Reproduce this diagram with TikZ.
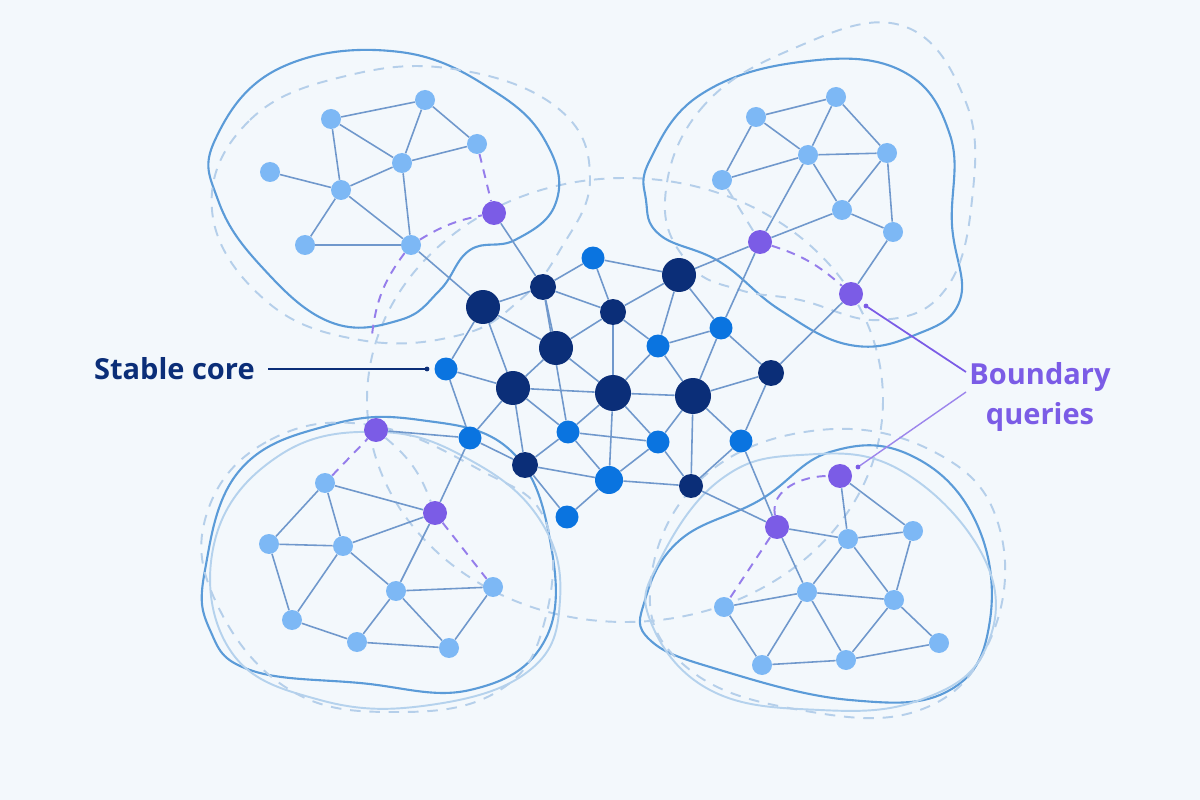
\documentclass[tikz,border=0pt]{standalone}
\usepackage{fontspec}
\setmainfont{Open Sans}
\usepackage{tikz}
\usetikzlibrary{positioning,backgrounds}
\definecolor{bgpaper}{HTML}{F3F8FC}
\definecolor{navy}{HTML}{0B2E78}
\definecolor{midblue}{HTML}{0A74E0}
\definecolor{lightblue}{HTML}{7DB8F5}
\definecolor{violet}{HTML}{7B5CE6}
\definecolor{edgeblue}{HTML}{7098CC}
\definecolor{blobblue}{HTML}{5B9BD8}
\definecolor{dashblue}{HTML}{B5CFEA}
\tikzset{
  big/.style={circle,fill=navy,minimum size=0.68cm,inner sep=0pt},
  dark/.style={circle,fill=navy,minimum size=0.52cm,inner sep=0pt},
  mid/.style={circle,fill=midblue,minimum size=0.46cm,inner sep=0pt},
  leaf/.style={circle,fill=lightblue,minimum size=0.4cm,inner sep=0pt},
  query/.style={circle,fill=violet,minimum size=0.48cm,inner sep=0pt},
  edge/.style={edgeblue,line width=0.9pt},
  qlink/.style={violet!80,line width=1.1pt,dash pattern=on 5pt off 4pt},
  fade/.style={dashblue,line width=1.1pt,dash pattern=on 6pt off 5pt},
  blob/.style={blobblue,line width=1.2pt},
  ghost/.style={blobblue!45,line width=1.1pt},
  tag/.style={font=\bfseries\fontsize{16.5}{23}\selectfont,inner sep=0pt}
}
\begin{document}
\begin{tikzpicture}[x=0.02cm,y=-0.02cm]
		\useasboundingbox (0,0) rectangle (1200,800);
		
		% core
		\node[big] (k1) at (483,307) {};
		\node[dark] (k2) at (543,287) {};
		\node[mid] (k3) at (593,258) {};
		\node[big] (k4) at (679,275) {};
		\node[dark] (k5) at (613,312) {};
		\node[big] (k6) at (556,348) {};
		\node[mid] (k7) at (658,346) {};
		\node[mid] (k8) at (721,328) {};
		\node[mid] (k9) at (446,369) {};
		\node[big] (k10) at (513,388) {};
		\node[big,minimum size=0.72cm] (k11) at (613,393) {};
		\node[big,minimum size=0.72cm] (k12) at (693,396) {};
		\node[dark] (k13) at (771,373) {};
		\node[mid] (k14) at (568,432) {};
		\node[mid] (k15) at (658,442) {};
		\node[mid] (k16) at (741,441) {};
		\node[mid] (k17) at (470,438) {};
		\node[dark] (k18) at (525,465) {};
		\node[mid,minimum size=0.56cm] (k19) at (609,480) {};
		\node[dark,minimum size=0.48cm] (k20) at (691,486) {};
		\node[mid] (k21) at (567,517) {};
		
		% boundary queries
		\node[query] (q1) at (494,213) {};
		\node[query] (q2) at (760,242) {};
		\node[query] (q3) at (851,294) {};
		\node[query] (q4) at (376,430) {};
		\node[query] (q5) at (435,513) {};
		\node[query] (q6) at (777,527) {};
		\node[query] (q7) at (840,476) {};
		
		% top left
		\node[leaf] (t1) at (425,100) {};
		\node[leaf] (t2) at (331,119) {};
		\node[leaf] (t3) at (477,144) {};
		\node[leaf] (t4) at (402,163) {};
		\node[leaf] (t5) at (270,172) {};
		\node[leaf] (t6) at (341,190) {};
		\node[leaf] (t7) at (305,245) {};
		\node[leaf] (t8) at (411,245) {};
		
		% top right
		\node[leaf] (r1) at (836,97) {};
		\node[leaf] (r2) at (756,117) {};
		\node[leaf] (r3) at (808,155) {};
		\node[leaf] (r4) at (887,153) {};
		\node[leaf] (r5) at (722,180) {};
		\node[leaf] (r6) at (842,210) {};
		\node[leaf] (r7) at (893,232) {};
		
		% bottom left
		\node[leaf] (l1) at (325,483) {};
		\node[leaf] (l2) at (269,544) {};
		\node[leaf] (l3) at (343,546) {};
		\node[leaf] (l4) at (396,591) {};
		\node[leaf] (l5) at (493,587) {};
		\node[leaf] (l6) at (292,620) {};
		\node[leaf] (l7) at (357,642) {};
		\node[leaf] (l8) at (449,648) {};
		
		% bottom right
		\node[leaf] (s1) at (848,539) {};
		\node[leaf] (s2) at (913,531) {};
		\node[leaf] (s3) at (807,592) {};
		\node[leaf] (s4) at (894,600) {};
		\node[leaf] (s5) at (724,607) {};
		\node[leaf] (s6) at (762,665) {};
		\node[leaf] (s7) at (846,660) {};
		\node[leaf] (s8) at (939,643) {};
		
		% labels
		\node[tag,text=navy,anchor=east] (core) at (255,369) {Stable core};
		\node[tag,text=violet,align=center] (bq) at (1040,397) {Boundary\\queries};
		\coordinate (coreend) at (268,369);
		\coordinate (coretip) at (427,369);
		\coordinate (q3end) at (966,372);
		\coordinate (q3tip) at (866,306);
		\coordinate (q7end) at (966,392);
		\coordinate (q7tip) at (858,467);
		\draw[navy,line width=1pt] (coreend) -- (coretip);
		\fill[navy] (coretip) circle (2.4);
		\draw[violet,line width=1pt] (q3end) -- (q3tip);
		\fill[violet] (q3tip) circle (2.4);
		\draw[violet!75,line width=0.8pt] (q7end) -- (q7tip);
		\fill[violet] (q7tip) circle (2.4);
		
		\begin{pgfonlayer}{background}
		\fill[bgpaper] (0,0) rectangle (1200,800);
		% regions
		\draw[fade] (625,400) ellipse [x radius=258, y radius=222];
		\draw[blob] plot[smooth cycle,tension=0.7] coordinates {(215,140) (280,68) (400,52) (500,95) (550,150) (555,205) (515,240) (470,250) (440,290) (400,320) (330,322) (260,265) (218,200)};
		\draw[fade] plot[smooth cycle,tension=0.7] coordinates {(212,210) (250,120) (350,75) (460,70) (560,110) (590,180) (560,250) (520,300) (460,335) (360,340) (265,300)};
		\draw[blob] plot[smooth cycle,tension=0.7] coordinates {(650,160) (700,95) (800,62) (900,70) (950,135) (952,225) (960,300) (915,335) (850,345) (780,310) (720,262) (660,235) (646,200)};
		\draw[fade] plot[smooth cycle,tension=0.7] coordinates {(665,200) (700,110) (790,50) (900,25) (965,100) (972,200) (945,290) (880,320) (800,300) (740,290) (690,265)};
		\draw[blob] plot[smooth cycle,tension=0.7] coordinates {(205,570) (240,470) (330,425) (420,420) (510,450) (550,540) (545,640) (470,690) (360,683) (250,670) (210,630)};
		\draw[ghost] plot[smooth cycle,tension=0.7] coordinates {(215,540) (280,455) (380,432) (470,460) (540,520) (560,600) (530,670) (430,705) (320,700) (230,650)};
		\draw[fade] plot[smooth cycle,tension=0.7] coordinates {(208,510) (270,440) (370,425) (480,470) (545,520) (545,620) (500,690) (400,712) (290,690) (215,600)};
		\draw[blob] plot[smooth cycle,tension=0.7] coordinates {(645,600) (680,540) (760,500) (830,452) (910,455) (975,520) (990,620) (950,690) (850,700) (720,670) (650,640)};
		\draw[ghost] plot[smooth cycle,tension=0.7] coordinates {(660,560) (720,480) (800,455) (900,470) (985,560) (985,650) (920,700) (820,710) (710,690) (650,620)};
		\draw[fade] plot[smooth cycle,tension=0.7] coordinates {(650,590) (700,480) (820,430) (940,455) (1000,530) (990,640) (920,710) (800,710) (690,670)};
		
		% links
		\foreach \a/\b in {k1/k2,k2/k3,k3/k4,k2/k5,k3/k5,k5/k4,k1/k6,k2/k6,k2/k14,k5/k6,k5/k11,k5/k7,k4/k7,k4/k8,
		  k1/k9,k1/k10,k6/k10,k6/k11,k10/k11,k11/k12,k11/k7,k7/k8,k8/k12,k8/k13,k12/k13,k7/k12,
		  k9/k10,k9/k17,k10/k17,k10/k18,k10/k14,k14/k11,k14/k15,k11/k19,k11/k15,k15/k12,k12/k20,k12/k16,
		  k13/k16,k17/k18,k18/k19,k18/k21,k14/k19,k14/k18,k15/k19,k15/k20,k19/k20,k19/k21,k20/k16,
		  k1/t8,k2/q1,k4/q2,k8/q2,k13/q3,k17/q4,k17/q5,k20/q6,k16/q6}
		  \draw[edge] (\a) -- (\b);
		\foreach \a/\b in {t2/t1,t1/t3,t1/t4,t2/t4,t2/t6,t4/t3,t4/t6,t4/t8,t5/t6,t6/t7,t6/t8,t7/t8,
		  r2/r1,r1/r3,r1/r4,r2/r3,r2/r5,r3/r4,r3/r5,r3/r6,r4/r6,r4/r7,r6/r7,r3/q2,r6/q2,r7/q3,
		  l1/q5,l1/l2,l1/l3,l2/l3,l2/l6,l3/l6,l3/q5,l3/l4,q5/l4,l4/l5,l4/l7,l4/l8,l5/l8,l6/l7,l7/l8,
		  q7/s1,q7/s2,q6/s1,q6/s3,s1/s2,s1/s3,s1/s4,s2/s4,s3/s4,s3/s5,s3/s6,s3/s7,s4/s7,s4/s8,s5/s6,s6/s7,s7/s8}
		  \draw[edge] (\a) -- (\b);
		\draw[qlink] (t3) -- (q1);
		\draw[qlink] (t8) to[bend left=10] (q1);
		\draw[qlink] (t8) to[bend right=15] (372,335);
		\draw[qlink] (q2) to[bend left=12] (q3);
		\draw[qlink] (l1) -- (q4);
		\draw[qlink] (q5) -- (l5);
		\draw[qlink] (q6) -- (s5);
		\draw[qlink] (q6) to[out=100,in=180] (q7);
		\draw[fade] (r5) -- (q2);
		\draw[fade] (q4) to[bend left=15] (q5);
		\end{pgfonlayer}
		
		\end{tikzpicture}
\end{document}
